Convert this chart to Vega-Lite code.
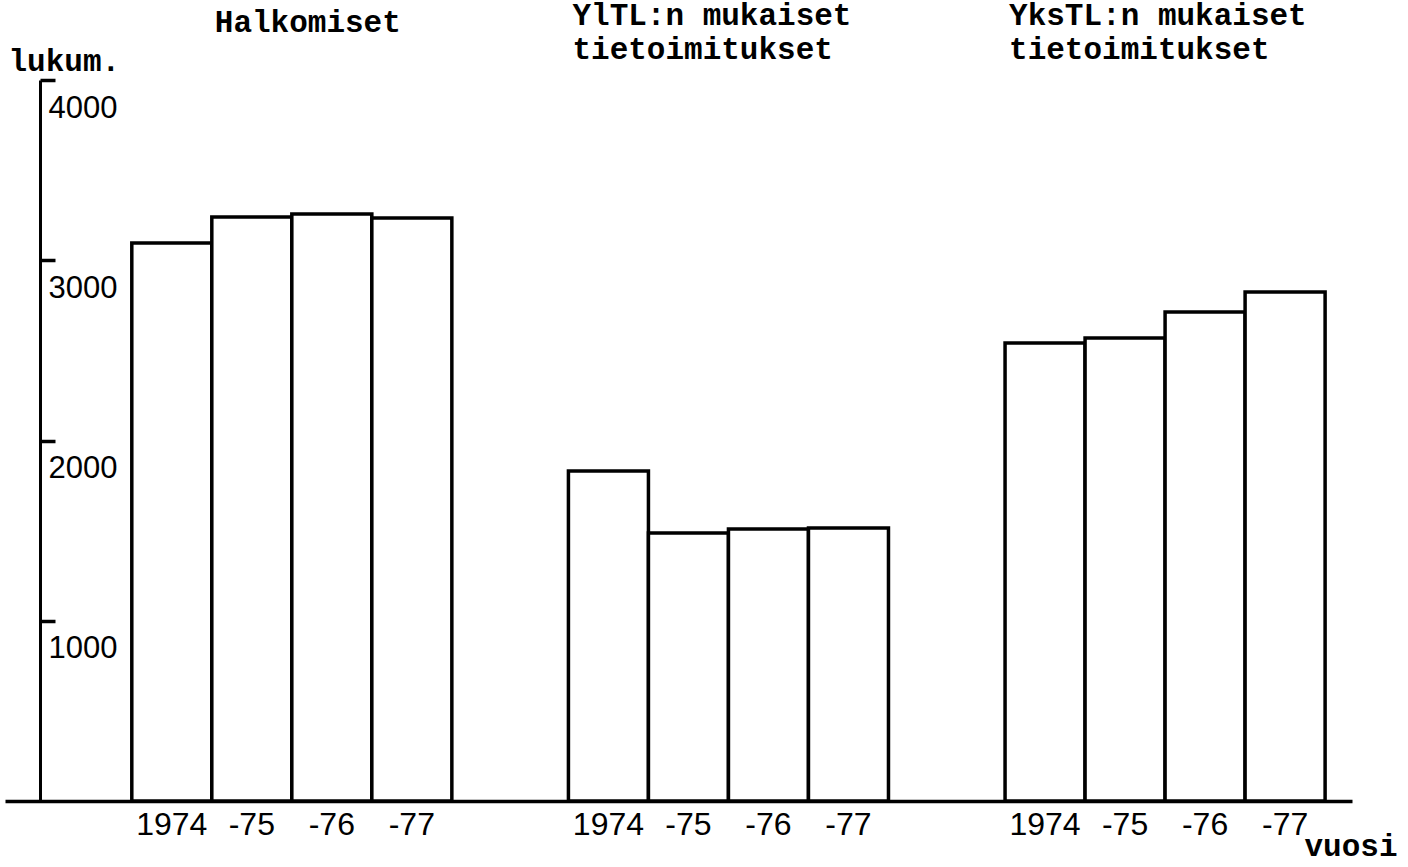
{
  "$schema": "https://vega.github.io/schema/vega-lite/v6.json",
  "width": 1347,
  "height": 721,
  "autosize": {"type": "none"},
  "padding": {"left": 5, "top": 80, "right": 56, "bottom": 66},
  "background": "white",
  "config": {"view": {"stroke": null}},
  "datasets": {
    "bars": [
      {"group": "Halkomiset", "year": "1974", "value": 3096},
      {"group": "Halkomiset", "year": "-75", "value": 3240},
      {"group": "Halkomiset", "year": "-76", "value": 3257},
      {"group": "Halkomiset", "year": "-77", "value": 3234},
      {"group": "YlTL", "year": "1974", "value": 1831},
      {"group": "YlTL", "year": "-75", "value": 1487},
      {"group": "YlTL", "year": "-76", "value": 1509},
      {"group": "YlTL", "year": "-77", "value": 1515},
      {"group": "YksTL", "year": "1974", "value": 2541},
      {"group": "YksTL", "year": "-75", "value": 2569},
      {"group": "YksTL", "year": "-76", "value": 2713},
      {"group": "YksTL", "year": "-77", "value": 2824}
    ],
    "titles": [
      {"group": "Halkomiset", "title": "Halkomiset"},
      {"group": "YlTL", "title": "YlTL:n mukaiset\ntietoimitukset"},
      {"group": "YksTL", "title": "YksTL:n mukaiset\ntietoimitukset"}
    ]
  },
  "layer": [
    {
      "data": {"name": "bars"},
      "mark": {"type": "bar", "fill": "white", "stroke": "black", "strokeWidth": 3.5},
      "encoding": {
        "x": {
          "field": "group", "type": "nominal",
          "sort": ["Halkomiset", "YlTL", "YksTL"],
          "scale": {"paddingInner": 0.267, "paddingOuter": 0.176, "align": 0.825},
          "axis": {
            "labels": false, "ticks": false, "domain": true,
            "domainColor": "black", "domainWidth": 3.5,
            "title": "vuosi", "titleX": 1392, "titleY": 54,
            "titleAlign": "right", "titleBaseline": "alphabetic", "titleAnchor": null,
            "titleFont": "Liberation Mono", "titleFontSize": 31, "titleFontWeight": "bold", "titleColor": "black"
          }
        },
        "xOffset": {
          "field": "year", "type": "nominal",
          "sort": ["1974", "-75", "-76", "-77"],
          "scale": {"paddingInner": 0, "paddingOuter": 0}
        },
        "y": {
          "field": "value", "type": "quantitative",
          "scale": {"domain": [0, 4000], "nice": false},
          "axis": {
            "values": [1000, 2000, 3000, 4000], "format": "d",
            "grid": false, "offset": -35,
            "domainColor": "black", "domainWidth": 3,
            "tickColor": "black", "tickWidth": 3.5, "tickSize": -15,
            "labelFont": "Liberation Sans", "labelFontSize": 31, "labelColor": "black",
            "labelAlign": "left", "labelBaseline": "alphabetic", "labelOffset": 37,
            "labelPadding": 7, "labelFlush": false, "labelOverlap": false, "labelBound": false,
            "title": "lukum.", "titleAngle": 0, "titleX": -32, "titleY": -10,
            "titleAlign": "left", "titleBaseline": "alphabetic",
            "titleFont": "Liberation Mono", "titleFontSize": 31, "titleFontWeight": "bold", "titleColor": "black"
          }
        }
      }
    },
    {
      "data": {"name": "bars"},
      "mark": {"type": "text", "font": "Liberation Sans", "fontSize": 32, "color": "black", "baseline": "alphabetic", "align": "center", "dy": 34},
      "encoding": {
        "x": {"field": "group", "type": "nominal", "sort": ["Halkomiset", "YlTL", "YksTL"]},
        "xOffset": {"field": "year", "type": "nominal", "sort": ["1974", "-75", "-76", "-77"]},
        "y": {"datum": 0, "type": "quantitative"},
        "text": {"field": "year"}
      }
    },
    {
      "data": {"name": "titles"},
      "transform": [{"filter": "datum.group === 'Halkomiset'"}],
      "mark": {"type": "text", "font": "Liberation Mono", "fontSize": 31, "fontWeight": "bold", "color": "black", "baseline": "alphabetic", "align": "left", "dx": 83},
      "encoding": {
        "x": {"field": "group", "type": "nominal", "sort": ["Halkomiset", "YlTL", "YksTL"], "bandPosition": 0},
        "y": {"datum": 4266, "type": "quantitative"},
        "text": {"field": "title"}
      }
    },
    {
      "data": {"name": "titles"},
      "transform": [{"filter": "datum.group !== 'Halkomiset'"}],
      "mark": {"type": "text", "font": "Liberation Mono", "fontSize": 31, "fontWeight": "bold", "color": "black", "baseline": "alphabetic", "align": "left", "dx": 4, "lineBreak": "\n", "lineHeight": 34},
      "encoding": {
        "x": {"field": "group", "type": "nominal", "sort": ["Halkomiset", "YlTL", "YksTL"], "bandPosition": 0},
        "y": {"datum": 4305, "type": "quantitative"},
        "text": {"field": "title"}
      }
    }
  ]
}
